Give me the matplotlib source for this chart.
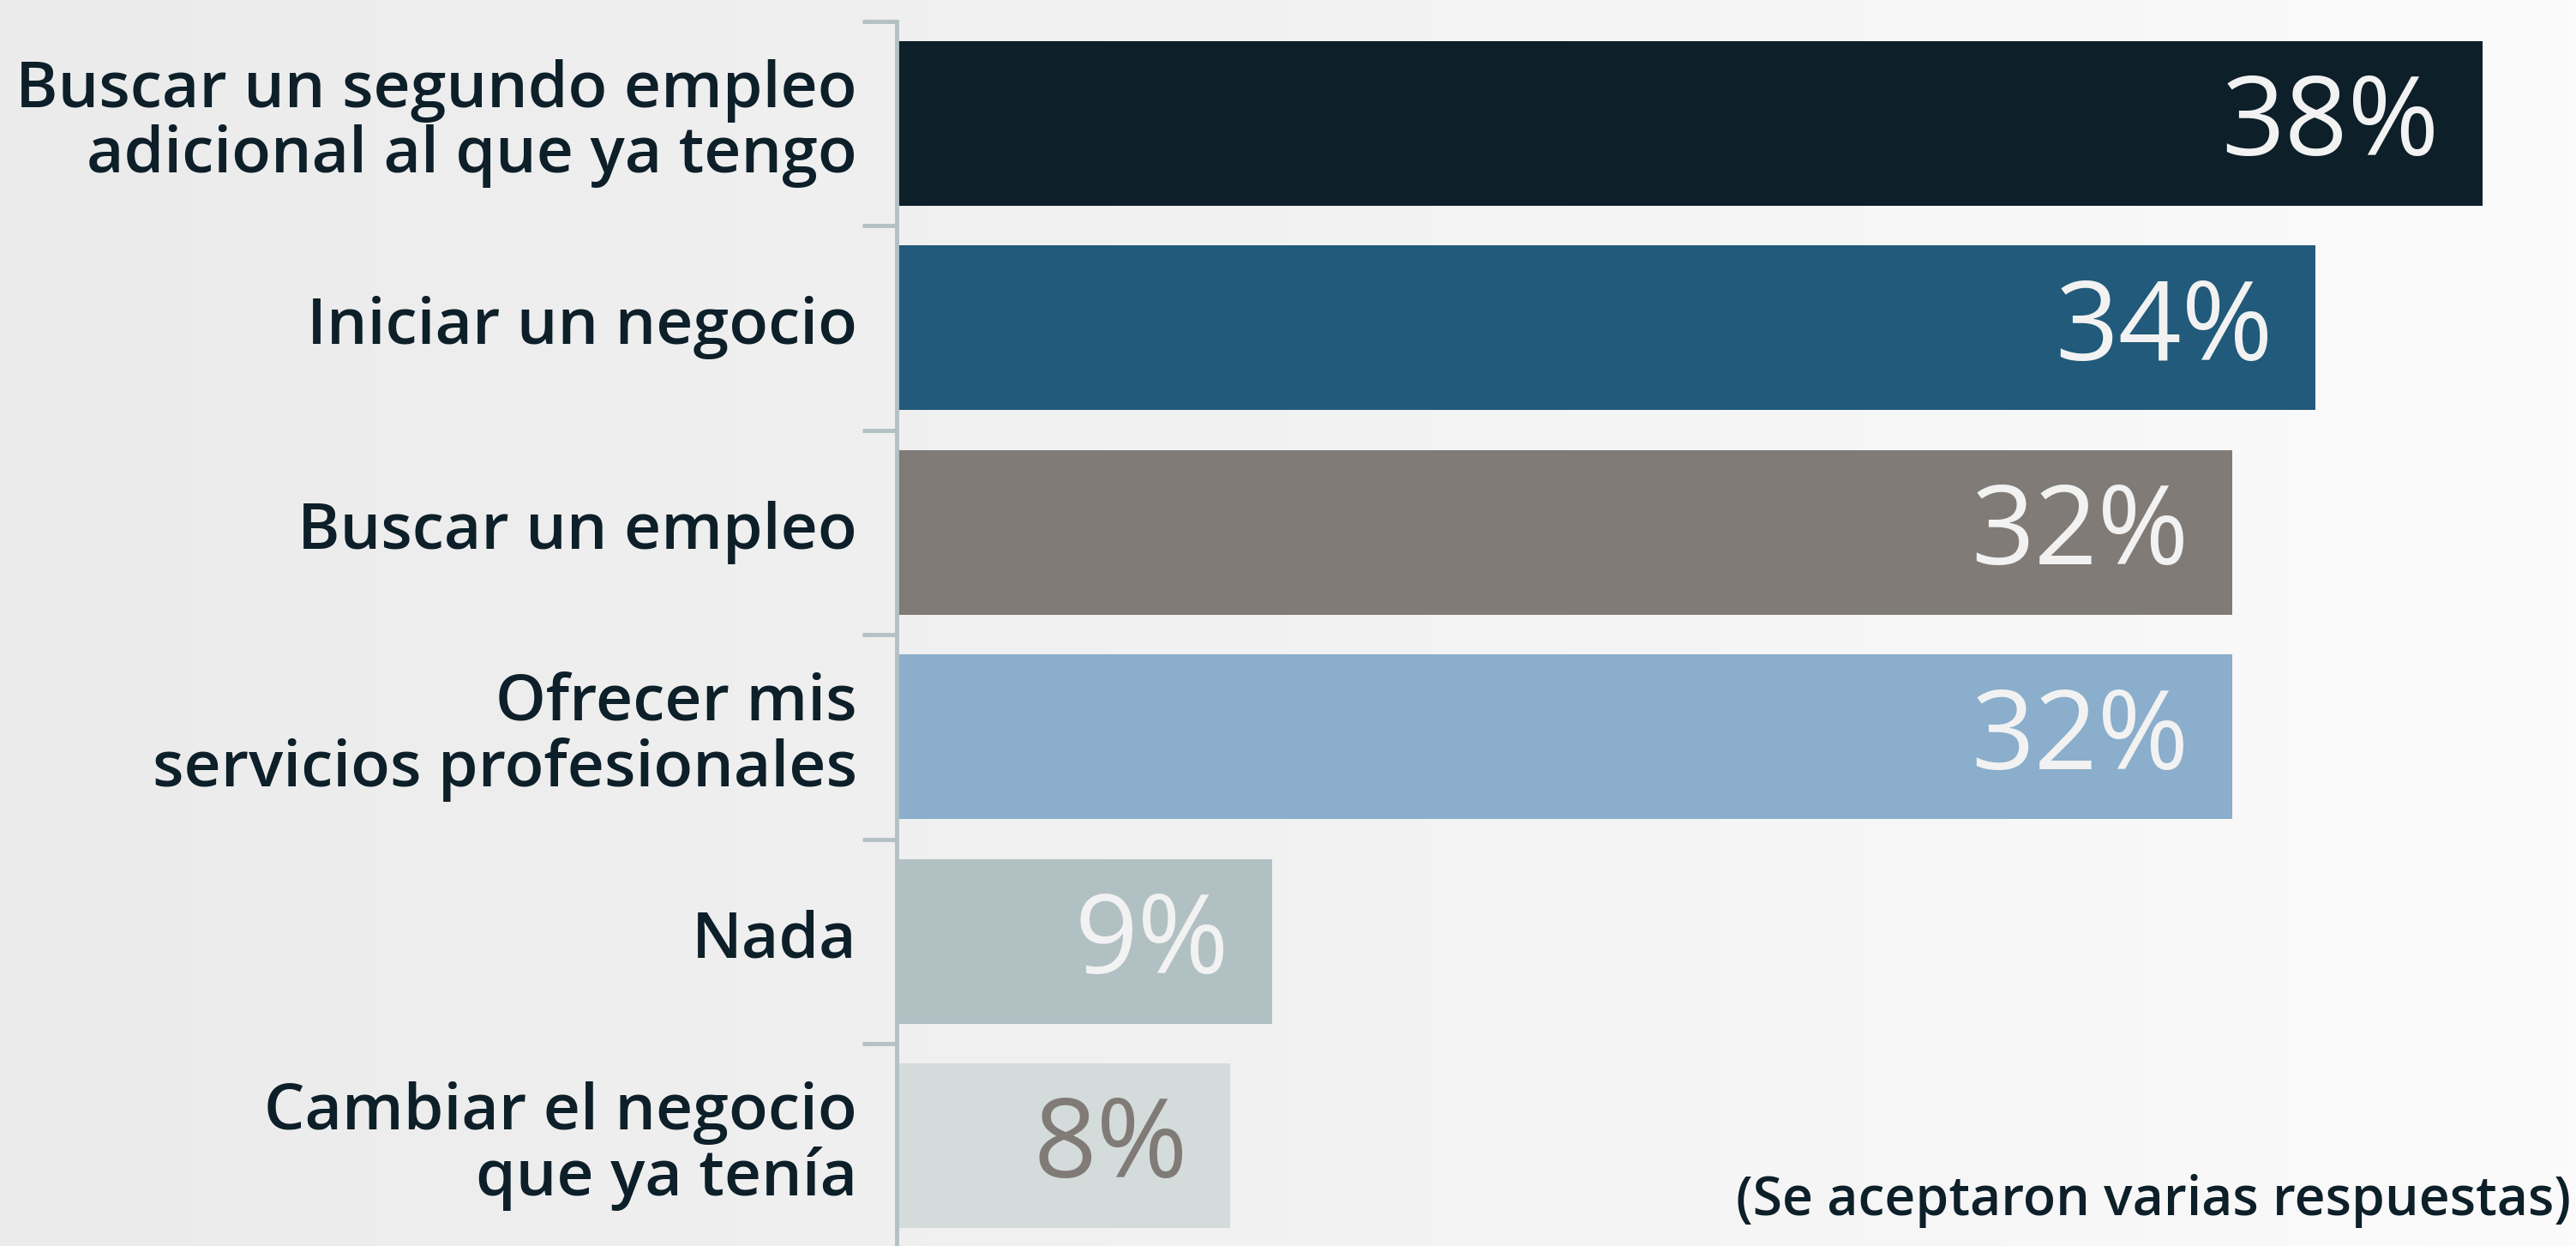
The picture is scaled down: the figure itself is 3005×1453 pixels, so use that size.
import numpy as np
import matplotlib
matplotlib.use("Agg")
import matplotlib.pyplot as plt

# -------------------------
# Datos
# -------------------------
categorias = [
    "Buscar un segundo empleo\nadicional al que ya tengo",
    "Iniciar un negocio",
    "Buscar un empleo",
    "Ofrecer mis\nservicios profesionales",
    "Nada",
    "Cambiar el negocio\nque ya tenía",
]
valores = [38, 34, 32, 32, 9, 8]
etiquetas = ["38%", "34%", "32%", "32%", "9%", "8%"]
nota = "(Se aceptaron varias respuestas)"

colores_barra = ["#0d1f29", "#215a7a", "#807b77", "#8aaecb", "#b1c0c3", "#d4dbdb"]
colores_texto = ["#f2f2f2", "#f2f2f2", "#f2f2f2", "#f2f2f2", "#f2f2f2", "#807b77"]
color_label = "#0d1f29"
color_eje = "#b3c1c5"

FUENTE = "Open Sans"

# -------------------------
# Figura
# -------------------------
W, H = 3005, 1453
fig = plt.figure(figsize=(W / 100, H / 100), dpi=100)

# fondo suave (degradado)
bg = fig.add_axes([0, 0, 1, 1])
grad = np.linspace(0, 1, 256).reshape(1, -1)
bg.imshow(grad, aspect="auto", cmap=matplotlib.colors.LinearSegmentedColormap.from_list(
    "bg", ["#ebebeb", "#f2f2f2", "#fbfbfb"]), extent=[0, 1, 0, 1])
bg.axis("off")

x0 = 1046 / W
ax = fig.add_axes([x0, 0, 1 - x0, 1])
ax.set_facecolor("none")

y = np.arange(len(valores))
ax.barh(y, valores, height=0.805, color=colores_barra, zorder=2)

ax.set_xlim(0, (W - 1046) / 48.68)
ax.set_ylim(5.49, -0.604)

# eje y con marcas entre barras
for s in ["top", "right", "bottom"]:
    ax.spines[s].set_visible(False)
ax.spines["left"].set_color(color_eje)
ax.spines["left"].set_linewidth(3.5)
ax.spines["left"].set_bounds(-0.5, 5.49)
ax.set_xticks([])
ax.set_yticks(np.arange(-0.5, 5.0, 1.0))
ax.tick_params(axis="y", length=29, width=3.5, color=color_eje, labelleft=False)

# etiquetas de categoría
for i, cat in enumerate(categorias):
    ax.annotate(cat, xy=(0, i), xycoords="data", xytext=(-46, 0),
                textcoords="offset pixels", ha="right", va="center",
                fontsize=54, fontweight="semibold", family=FUENTE,
                color=color_label, linespacing=1.04)

# valores dentro de las barras
for i, (v, t) in enumerate(zip(valores, etiquetas)):
    ax.annotate(t, xy=(v, i), xycoords="data", xytext=(-50, -4),
                textcoords="offset pixels", ha="right", va="center",
                fontsize=93, fontweight="medium", family=FUENTE,
                color=colores_texto[i], zorder=3)

fig.text(0.998, 0.036, nota, ha="right", va="center", fontsize=45,
         fontweight="semibold", family=FUENTE, color=color_label)

fig.savefig("out.png", dpi=100)
